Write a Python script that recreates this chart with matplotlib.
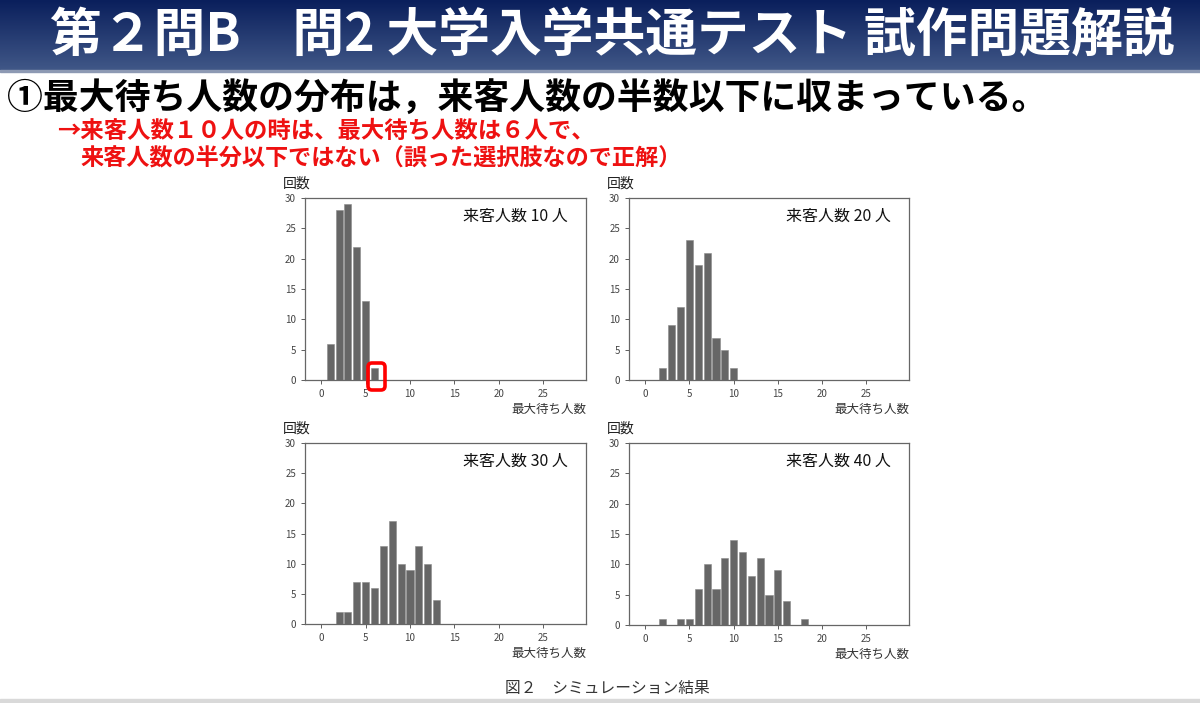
import numpy as np
import matplotlib
matplotlib.use("Agg")
import matplotlib.pyplot as plt
from matplotlib.patches import Rectangle, FancyBboxPatch

plt.rcParams["font.family"] = ["Noto Sans CJK JP", "DejaVu Sans"]

# データ
wait_counts = list(range(29))  # 最大待ち人数 0..28
n10 = [0, 6, 28, 29, 22, 13, 2] + [0] * 22
n20 = [0, 0, 2, 9, 12, 23, 19, 21, 7, 5, 2] + [0] * 18
n30 = [0, 0, 2, 2, 7, 7, 6, 13, 17, 10, 9, 13, 10, 4] + [0] * 15
n40 = [0, 0, 1, 0, 1, 1, 6, 10, 6, 11, 14, 12, 8, 11, 5, 9, 4, 0, 1] + [0] * 10
panel_labels = ["来客人数 10 人", "来客人数 20 人", "来客人数 30 人", "来客人数 40 人"]
y_ticks = [0, 5, 10, 15, 20, 25, 30]
x_ticks = [0, 5, 10, 15, 20, 25]

title = "第２問B　問2 大学入学共通テスト 試作問題解説"
point_text = "①最大待ち人数の分布は，来客人数の半数以下に収まっている。"
note_1 = "→来客人数１０人の時は、最大待ち人数は６人で、"
note_2 = "来客人数の半分以下ではない（誤った選択肢なので正解）"
caption = "図２　シミュレーション結果"

W, H = 1200, 703
fig = plt.figure(figsize=(12, 7.03), dpi=100)
fig.patch.set_facecolor("white")

# 背景（ピクセル座標）
bg = fig.add_axes([0, 0, 1, 1])
bg.set_xlim(0, W)
bg.set_ylim(H, 0)
bg.axis("off")

grad = np.linspace(0, 1, 100).reshape(-1, 1)
top = np.array([0x0a, 0x1f, 0x5c]) / 255
bot = np.array([0x40, 0x57, 0x87]) / 255
img = top + (bot - top) * grad[..., None]
img = np.repeat(img, 2, axis=1)
bg.imshow(img, extent=[0, W, 70, 0], aspect="auto", zorder=0)
bg.add_patch(Rectangle((0, 70), W, 2, color="#8d99b3", zorder=1))
bg.add_patch(Rectangle((0, 699), W, 4, color="#d9d9d9", zorder=1))

bg.text(50, 35, title, color="white", fontsize=37.3, fontweight="bold", va="center", ha="left")
bg.text(7, 98, point_text, color="black", fontsize=25.8, fontweight="bold", va="center", ha="left")
bg.text(57, 131, note_1, color="#ee1111", fontsize=16.8, fontweight="bold", va="center", ha="left")
bg.text(80, 159, note_2, color="#ee1111", fontsize=16.7, fontweight="bold", va="center", ha="left")
bg.text(607, 688, caption, color="#333333", fontsize=11.3, va="center", ha="center")

# 来客人数10人のときの最大待ち人数6人を強調（ピクセル座標の枠）
bg.add_patch(FancyBboxPatch((368, 363), 17, 27, boxstyle="round,pad=0,rounding_size=4",
                            fill=False, edgecolor="red", linewidth=2.6, zorder=6))

# サブプロットの配置（ピクセル：左, 右, 上, 下）
boxes = [(305, 586, 198, 380), (629, 909, 198, 380), (305, 586, 443, 624), (629, 909, 443, 625)]
series = [n10, n20, n30, n40]

for (l, r, t, b), counts, label in zip(boxes, series, panel_labels):
    ax = fig.add_axes([l / W, (H - b) / H, (r - l) / W, (b - t) / H])
    ax.bar(wait_counts, counts, width=0.8, color="#666666", edgecolor="#8a8a8a", linewidth=0.4)
    ax.set_ylim(0, 30)
    ax.set_yticks(y_ticks)
    ax.set_xticks(x_ticks)
    ax.tick_params(labelsize=7, colors="#444444", length=3, width=0.6)
    for sp in ax.spines.values():
        sp.set_color("#666666")
        sp.set_linewidth(0.9)
    ax.text(0.935, 0.9, label, transform=ax.transAxes, ha="right", va="center", fontsize=11.5, color="#111111")
    ax.text(-0.08, 1.08, "回数", transform=ax.transAxes, ha="left", va="center", fontsize=10, color="#222222")
    ax.text(1.0, -0.16, "最大待ち人数", transform=ax.transAxes, ha="right", va="center", fontsize=9, color="#333333")

# 背景軸を最前面へ（強調枠を表示するため）
bg.set_zorder(10)
bg.patch.set_visible(False)

fig.savefig("out.png", dpi=100, facecolor="white")
